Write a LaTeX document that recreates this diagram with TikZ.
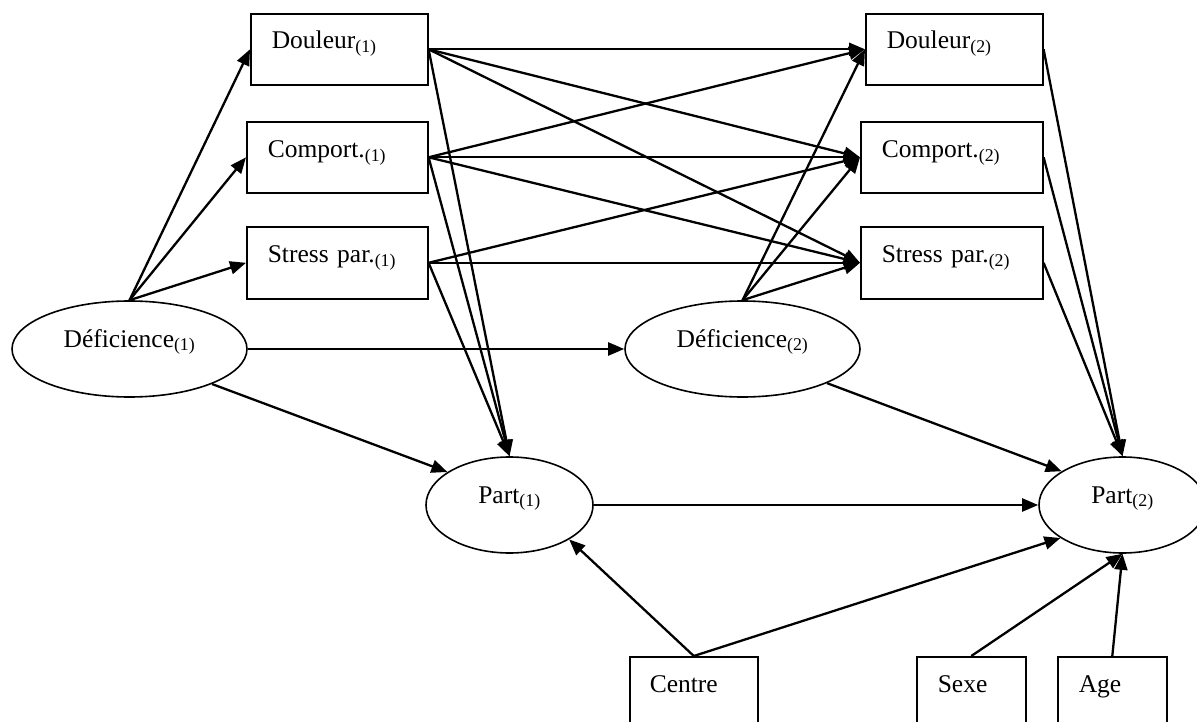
\documentclass[tikz,border=0pt]{standalone}
\usepackage{fontspec}
\setmainfont{Liberation Serif}
\usetikzlibrary{arrows.meta,shapes.geometric}
\newcommand{\sbs}[1]{\textsubscript{(#1)}}
\tikzset{
  varbox/.style={draw, line width=1.6pt, anchor=north west, align=left, inner ysep=0pt, inner xsep=21pt, text height=36pt, text depth=35pt},
  varell/.style={draw, ellipse, line width=1.6pt, inner sep=0pt, minimum height=96pt, text height=4pt, text depth=8pt},
  arr/.style={line width=2.3pt, -{Triangle[length=16pt,width=13pt]}}
}
\begin{document}
\begin{tikzpicture}[x=1pt, y=-1pt, font=\fontsize{25.5}{30}\selectfont]
\useasboundingbox (0,0) rectangle (1197,722);
% time 1 boxes
\node[varbox, text width=135pt, text height=35pt, text depth=36pt] (d1) at (250,13) {\mbox{Douleur\sbs{1}}};
\node[varbox, text width=139pt] (c1) at (246,121) {\mbox{Comport.\sbs{1}}};
\node[varbox, text width=139pt, text depth=36pt] (s1) at (246,226) {\mbox{Stress par.\sbs{1}}};
% time 2 boxes
\node[varbox, text width=135pt, text height=35pt, text depth=36pt] (d2) at (865,13) {\mbox{Douleur\sbs{2}}};
\node[varbox, text width=140pt] (c2) at (860,121) {\mbox{Comport.\sbs{2}}};
\node[varbox, text width=140pt, text depth=36pt] (s2) at (860,226) {\mbox{Stress par.\sbs{2}}};
% ellipses
\node[varell, minimum width=235pt] (def1) at (129.5,349) {Déficience\sbs{1}};
\node[varell, minimum width=235pt] (def2) at (742.5,349) {Déficience\sbs{2}};
\node[varell, minimum width=167pt] (p1) at (509.5,505) {Part\sbs{1}};
\node[varell, minimum width=167pt] (p2) at (1122.5,505) {Part\sbs{2}};
% covariates
\node[varbox, inner xsep=20pt, text width=88pt, text depth=70pt] (centre) at (629,656) {\mbox{Centre}};
\node[varbox, text width=67pt, text depth=70pt] (sexe) at (916,656) {\mbox{Sexe}};
\node[varbox, text width=67pt, text depth=70pt] (age) at (1057,656) {\mbox{Age}};
% connectors
\draw[arr] (def1.north) -- (d1.west);
\draw[arr] (def1.north) -- (c1.west);
\draw[arr] (def1.north) -- (s1.west);
\draw[arr] (def1.east) -- (def2.west);
\draw[arr] (def1.-23) -- (p1.152);
\draw[arr] (d1.east) -- (d2.west);
\draw[arr] (d1.east) -- (c2.west);
\draw[arr] (d1.east) -- (s2.west);
\draw[arr] (c1.east) -- (d2.west);
\draw[arr] (c1.east) -- (c2.west);
\draw[arr] (c1.east) -- (s2.west);
\draw[arr] (s1.east) -- (c2.west);
\draw[arr] (s1.east) -- (s2.west);
\draw[arr] (d1.east) -- (p1.north);
\draw[arr] (c1.east) -- (p1.north);
\draw[arr] (s1.east) -- (p1.north);
\draw[arr] (def2.north) -- (d2.west);
\draw[arr] (def2.north) -- (c2.west);
\draw[arr] (def2.north) -- (s2.west);
\draw[arr] (def2.-22) -- (p2.151);
\draw[arr] (d2.east) -- (p2.north);
\draw[arr] (c2.east) -- (p2.north);
\draw[arr] (s2.east) -- (p2.north);
\draw[arr] (p1.east) -- (p2.west);
\draw[arr] (centre.north) -- (p1.-30);
\draw[arr] (centre.north) -- (p2.208);
\draw[arr] (sexe.north) -- (p2.south);
\draw[arr] (age.north) -- (p2.south);
\end{tikzpicture}
\end{document}
